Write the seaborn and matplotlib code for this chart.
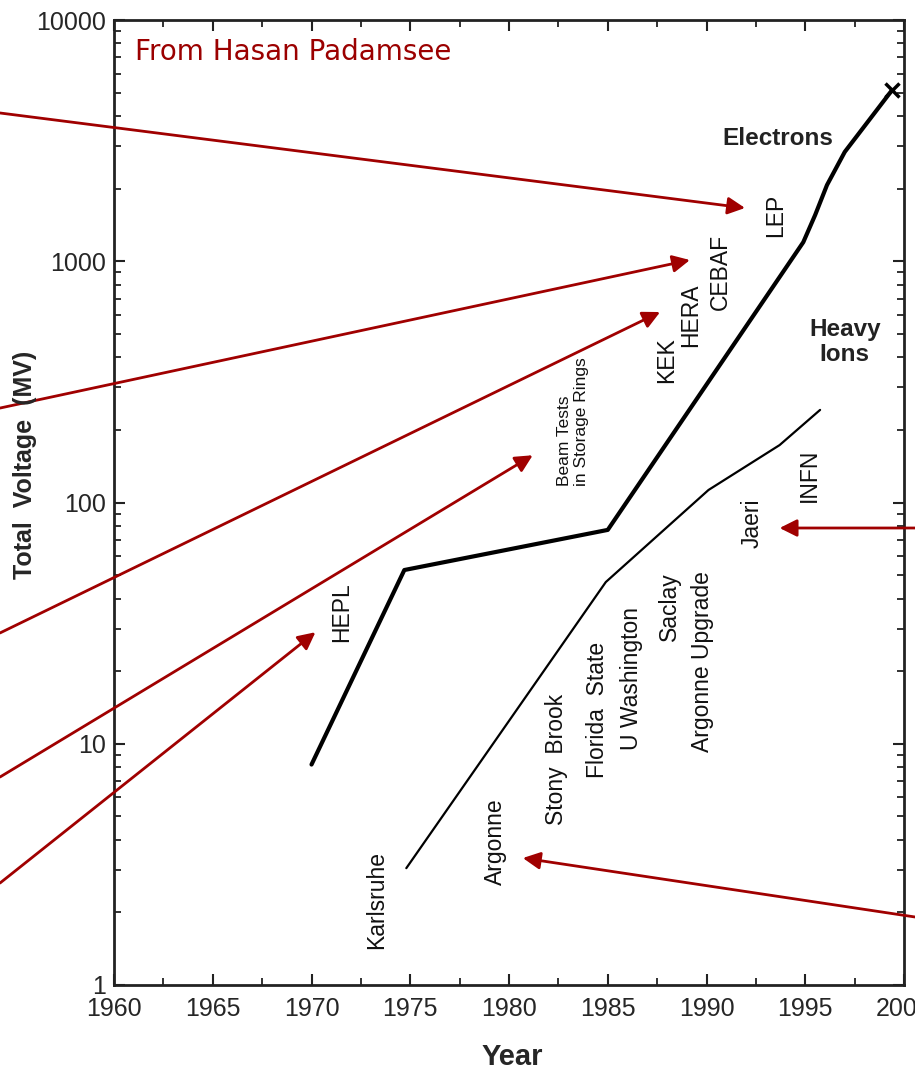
import matplotlib
matplotlib.use("Agg")
import matplotlib.pyplot as plt
import matplotlib.ticker as mticker
import seaborn as sns
import pandas as pd

# electron linacs / storage ring cavities
elec_year = [1970.0, 1974.7, 1985.0, 1994.9, 1995.5, 1996.1, 1997.0, 1999.4]
elec_mv = [8.2, 52.5, 77, 1200, 1555, 2070, 2840, 5130]

# heavy ion linacs
ion_year = [1974.8, 1984.9, 1990.1, 1993.7, 1995.75]
ion_mv = [3.05, 46.8, 112.7, 173, 242]

# vertical site labels
site_labels = ["HEPL", "Karlsruhe", "Argonne", "Stony  Brook", "Florida  State",
               "U Washington", "Saclay", "Argonne Upgrade", "Jaeri", "INFN",
               "KEK", "HERA", "CEBAF", "LEP"]
site_year = [1971.5, 1973.3, 1979.3, 1982.4, 1984.5,
             1986.2, 1988.1, 1989.8, 1992.3, 1995.2,
             1988.0, 1989.2, 1990.7, 1993.5]
site_mv = [35.2, 2.25, 3.92, 8.65, 13.8,
           18.7, 36.9, 22.0, 82.2, 130,
           390, 599, 902, 1555]

# red arrows: target (year, MV) and start in figure fraction
arrow_year = [1991.95, 1989.16, 1987.65, 1981.2, 1970.2, 1993.7, 1980.7]
arrow_mv = [1663, 1012, 616, 157, 29, 78.4, 3.36]
arrow_from = [(0.0, 0.8945), (0.0, 0.619), (0.0, 0.409), (0.0, 0.2745),
              (0.0, 0.1755), (1.0, 0.507), (1.0, 0.1438)]

sns.set_style("ticks")
plt.rcParams["font.family"] = ["Liberation Sans", "DejaVu Sans"]

fig = plt.figure(figsize=(9.15, 10.71), dpi=100)
ax = fig.add_axes([0.1246, 0.0803, 0.8634, 0.9010])

df_e = pd.DataFrame({"year": elec_year, "mv": elec_mv})
df_i = pd.DataFrame({"year": ion_year, "mv": ion_mv})
sns.lineplot(data=df_e, x="year", y="mv", ax=ax, color="black", lw=3.0,
             sort=False, estimator=None)
sns.lineplot(data=df_i, x="year", y="mv", ax=ax, color="black", lw=1.6,
             sort=False, estimator=None)
ax.plot(elec_year[-1], elec_mv[-1], marker="x", color="black", ms=10, mew=2.5)

ax.set_yscale("log")
ax.set_xlim(1960, 2000)
ax.set_ylim(1, 10000)
ax.set_xticks(range(1960, 2001, 5))
ax.xaxis.set_minor_locator(mticker.MultipleLocator(2.5))
ax.set_yticks([1, 10, 100, 1000, 10000])
ax.yaxis.set_major_formatter(mticker.FuncFormatter(lambda v, p: f"{v:g}"))
ax.yaxis.set_minor_locator(mticker.LogLocator(base=10, subs=range(2, 10)))
ax.yaxis.set_minor_formatter(mticker.NullFormatter())
ax.tick_params(which="both", direction="in", top=True, right=True,
               labelsize=18, color="#222222")
ax.tick_params(axis="x", pad=9)
ax.tick_params(axis="y", pad=6)
ax.tick_params(which="major", length=8, width=1.5)
ax.tick_params(which="minor", length=5, width=1.3)
for s in ax.spines.values():
    s.set_linewidth(2)
    s.set_color("#222222")
ax.set_xlabel("")
ax.set_ylabel("")

fig.text(512 / 915, 1 - 1057 / 1071, "Year", ha="center", va="center",
         fontsize=21, fontweight="bold")
fig.text(25 / 915, 1 - 465 / 1071, "Total  Voltage  (MV)", rotation=90,
         ha="center", va="center", fontsize=18, fontweight="bold")

for t, x, y in zip(site_labels, site_year, site_mv):
    ax.text(x, y, t, rotation=90, ha="center", va="center", fontsize=16.5,
            color="#111111")
ax.text(1983.24, 216, "Beam Tests\nin Storage Rings", rotation=90, ha="center",
        va="center", multialignment="left", fontsize=12.5, color="#111111",
        linespacing=1.1)
ax.text(1993.6, 3243, "Electrons", ha="center", va="center", fontsize=17.5,
        fontweight="bold", color="#222222")
ax.text(1997.0, 463, "Heavy\nIons", ha="center", va="center", fontsize=17.5,
        fontweight="bold", color="#222222", linespacing=1.15)

ax.text(135 / 915, 1 - 52 / 1071, "From Hasan Padamsee", transform=fig.transFigure,
        ha="left", va="center", fontsize=20, color="#9b0000",
        family="DejaVu Sans")

for (fx, fy), x, y in zip(arrow_from, arrow_year, arrow_mv):
    ax.annotate("", xy=(x, y), xycoords="data", xytext=(fx, fy),
                textcoords="figure fraction", annotation_clip=False,
                arrowprops=dict(arrowstyle="-|>", color="#a00000", lw=2,
                                mutation_scale=26, shrinkA=0, shrinkB=0))

fig.savefig("out.png", dpi=100)
